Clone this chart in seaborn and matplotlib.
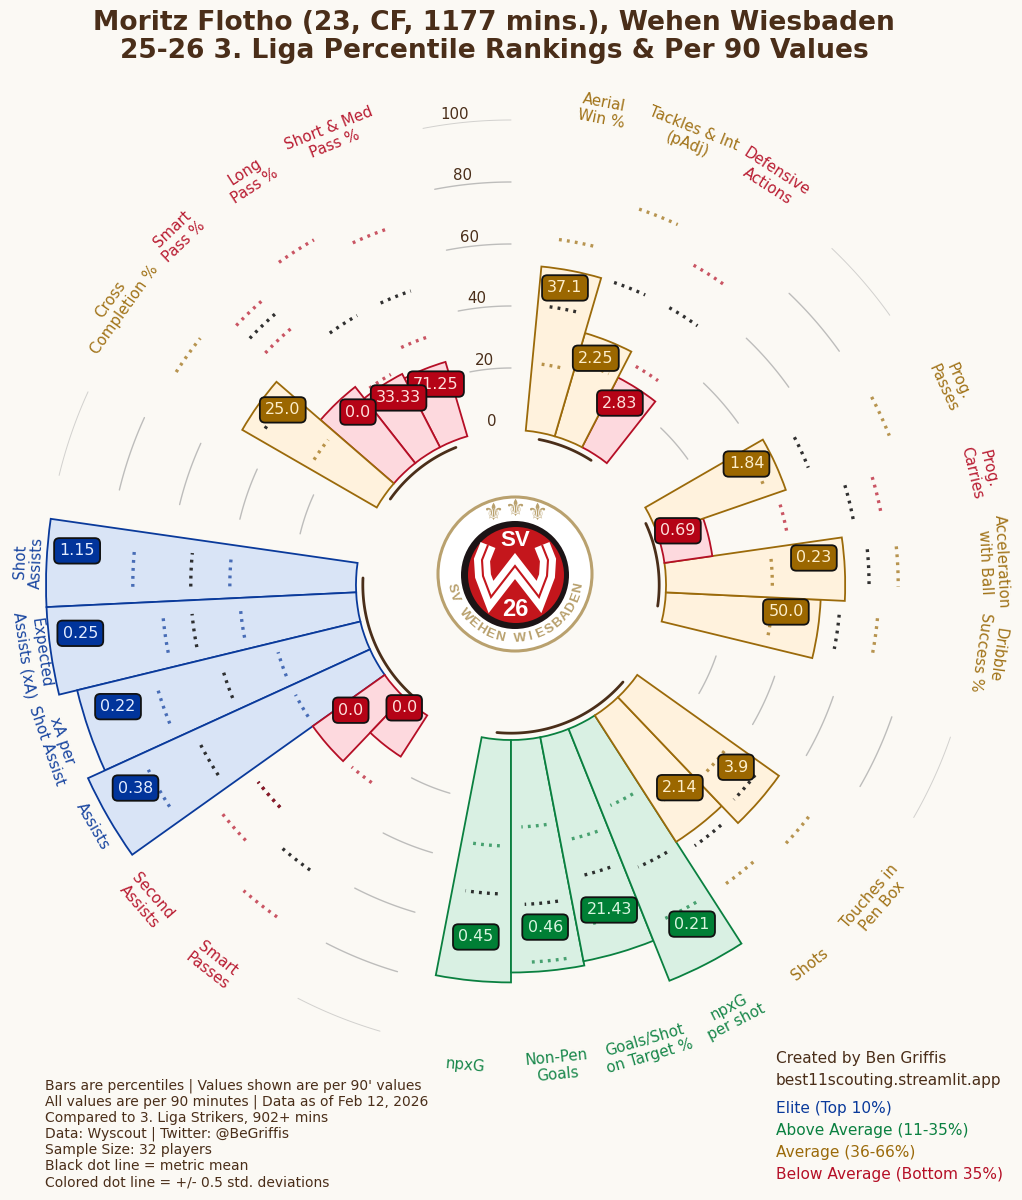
import numpy as np
import matplotlib
matplotlib.use('Agg')
import matplotlib.pyplot as plt
import seaborn as sns

# Metrics clockwise from the top, slot = position on a 33 slot circle
metrics = ['Aerial\nWin %', 'Tackles & Int\n(pAdj)', 'Defensive\nActions',
           'Prog.\nPasses', 'Prog.\nCarries', 'Acceleration\nwith Ball', 'Dribble\nSuccess %',
           'Touches in\nPen Box', 'Shots', 'npxG\nper shot', 'Goals/Shot\non Target %',
           'Non-Pen\nGoals', 'npxG',
           'Smart\nPasses', 'Second\nAssists', 'Assists', 'xA per\nShot Assist',
           'Expected\nAssists (xA)', 'Shot\nAssists',
           'Cross\nCompletion %', 'Smart\nPass %', 'Long\nPass %', 'Short & Med\nPass %']
slots = [1, 2, 3, 6, 7, 8, 9, 12, 13, 14, 15, 16, 17, 20, 21, 22, 23, 24, 25, 28, 29, 30, 31]
percentiles = [53.2, 34.7, 25.3, 43.8, 15.6, 57.8, 50.0, 56.1, 48.5, 87.5, 73.6, 75.0, 78.2,
               15.8, 28.5, 100, 94.0, 100, 100, 50.1, 31.3, 26.6, 25.0]
per90 = ['37.1', '2.25', '2.83', '1.84', '0.69', '0.23', '50.0', '3.9', '2.14', '0.21', '21.43',
         '0.46', '0.45', '0.0', '0.0', '0.38', '0.22', '0.25', '1.15', '25.0', '0.0', '33.33', '71.25']
tiers = ['avg', 'avg', 'low', 'avg', 'low', 'avg', 'avg', 'avg', 'avg', 'good', 'good', 'good', 'good',
         'low', 'low', 'elite', 'elite', 'elite', 'elite', 'avg', 'low', 'low', 'low']
mean_line = [40.6, 53.1, 53.0, 53.1, 62.4, 65.5, 56.3, 49.8, 52.9, 49.8, 46.5, 53.1, 49.7,
             62.5, 53.4, 62.6, 46.9, 53.3, 53.3, 44.0, 65.9, 50.1, 50.2]
low_line = [21.9, 25.1, 31.2, 37.6, 40.6, 34.3, 34.5, 37.2, 35.1, 28.0, 34.2, 28.1, 34.2,
            28.0, 53.4, 28.0, 28.2, 37.6, 40.7, 25.3, 59.0, 28.2, 34.4]
high_line = [62.5, 78.1, 68.8, 81.2, 71.6, 74.9, 68.7, 71.7, 68.7, 68.5, 62.3, 71.8, 64.2,
             81.0, 68.8, 81.3, 68.8, 62.7, 72.0, 78.0, 71.9, 78.2, 71.6]

# where the value boxes sit
label_deg = [10.3, 20.5, 30.9, 62.8, 72.0, 84.9, 95.6, 129.0, 140.2, 151.9, 163.2, 174.3, 185.7,
             221.0, 232.0, 241.6, 252.8, 263.6, 274.5, 307.5, 318.5, 329.0, 339.5]
label_r = [47.4, 28.1, 18.4, 35.4, 6.6, 48.1, 39.1, 43.4, 35.1, 74.0, 59.5, 60.9, 64.1,
           2.5, 15.6, 87.7, 82.7, 89.8, 90.4, 42.8, 24.5, 20.4, 19.2]

grid_values = [20, 40, 60, 80, 100]
grid_slots = [(4, 5), (10, 11), (18, 19), (26, 27), (32, 33)]
group_arcs = [(1, 3), (6, 9), (12, 17), (20, 25), (28, 31)]

notes = ["Bars are percentiles | Values shown are per 90' values",
         'All values are per 90 minutes | Data as of Feb 12, 2026',
         'Compared to 3. Liga Strikers, 902+ mins',
         'Data: Wyscout | Twitter: @BeGriffis',
         'Sample Size: 32 players',
         'Black dot line = metric mean',
         'Colored dot line = +/- 0.5 std. deviations']
legend_text = ['Elite (Top 10%)', 'Above Average (11-35%)', 'Average (36-66%)', 'Below Average (Bottom 35%)']
legend_tiers = ['elite', 'good', 'avg', 'low']

bg = '#fbf9f4'
brown = '#4a2e19'
line_col = {'elite': '#0a3a9b', 'good': '#0a8040', 'avg': '#9b6a0a', 'low': '#b50f26'}
fill_col = {'elite': '#d9e4f6', 'good': '#d9f0e3', 'avg': '#fff2dd', 'low': '#fdd9de'}
box_col = {'elite': '#01349b', 'good': '#007f35', 'avg': '#9b6700', 'low': '#b50316'}
box_text = {'elite': '#e3ecff', 'good': '#d9f5e0', 'avg': '#fdeecb', 'low': '#fde0dc'}

sns.set_theme(style='white')
plt.rcParams['font.family'] = ['DejaVu Sans']

W, H = 1022, 1200
fig = plt.figure(figsize=(W / 100, H / 100), dpi=100, facecolor=bg)


def fx(px):
    return px / W


def fy(py):
    return 1 - py / H


ax = fig.add_axes([fx(46), fy(1050), 930 / W, 930 / H], polar=True)
ax.set_theta_zero_location('N')
ax.set_theta_direction(-1)
ax.set_rorigin(-50)
ax.set_ylim(0, 100)
ax.axis('off')

step = 2 * np.pi / 33
thetas = [s * step for s in slots]
n = len(slots)

# bars, earlier slots sit on top of later ones
for i in range(n - 1, -1, -1):
    t = tiers[i]
    ax.bar(thetas[i], percentiles[i], width=step, bottom=0, facecolor=fill_col[t],
           edgecolor=line_col[t], linewidth=1.3, zorder=3 + (n - i) * 0.01, clip_on=False)


def dots(theta, value, col, alpha):
    tt = np.linspace(theta - np.radians(3), theta + np.radians(3), 12)
    ax.plot(tt, [value] * 12, color=col, alpha=alpha, lw=2.4, linestyle=(0, (0.85, 1.55)),
            zorder=6, clip_on=False)


for i in range(n):
    dots(thetas[i], mean_line[i], '#1a1a1a', 0.9)
    dots(thetas[i], low_line[i], line_col[tiers[i]], 0.7)
    dots(thetas[i], high_line[i], line_col[tiers[i]], 0.7)

    deg = np.degrees(thetas[i])
    if deg < 100:
        rot = -deg
    elif deg < 270:
        rot = 180 - deg
    else:
        rot = 360 - deg
    ax.text(thetas[i], 105.8, metrics[i], color=line_col[tiers[i]], fontsize=10.8, rotation=rot,
            rotation_mode='anchor', ha='center', va='center', linespacing=1.15, alpha=0.95)

    ax.text(np.radians(label_deg[i]), label_r[i], per90[i], color=box_text[tiers[i]],
            fontsize=11.4, ha='center', va='center', zorder=10 + (n - i) * 0.01,
            bbox=dict(boxstyle='round,pad=0.33', facecolor=box_col[tiers[i]], edgecolor='#111111', linewidth=1.3))

# grid arcs live in the gaps between groups
for a, b in grid_slots:
    tt = np.linspace(a * step, b * step, 30)
    for v in grid_values:
        ax.plot(tt, [v] * 30, color='#a9a9a9', lw=1.0 if v < 100 else 0.7, alpha=0.75 if v < 100 else 0.5,
                zorder=1, clip_on=False)

for v in [0] + grid_values:
    ax.text(np.radians(353.2), v + 3, str(v), color=brown, fontsize=10.8, ha='center', va='center')

for a, b in group_arcs:
    tt = np.linspace(a * step, b * step, 60)
    ax.plot(tt, [-2.2] * 60, color=brown, lw=2.0, zorder=8, clip_on=False, solid_capstyle='round')

# club badge
logo = fig.add_axes([fx(430), fy(659), 170 / W, 170 / H])
logo.set_xlim(-85, 85)
logo.set_ylim(-85, 85)
logo.set_aspect('equal')
logo.axis('off')
gold = '#b9a16e'
logo.add_patch(plt.Circle((0, 0), 77, facecolor='white', edgecolor=gold, lw=2.2))
logo.add_patch(plt.Circle((0, -1), 54, facecolor='#1c1416', edgecolor='none'))
logo.add_patch(plt.Circle((1, -1), 48, facecolor='#c4161c', edgecolor='none'))
wx = [-27, -33, -32, -24, 0, 24, 32, 33, 27]
wy = [29, 14, -2, -23, 8, -23, -2, 14, 29]
logo.plot(wx, wy, color='white', lw=11.5, solid_joinstyle='miter', solid_capstyle='butt')
logo.plot(wx, wy, color='#c4161c', lw=1.5, solid_joinstyle='miter', solid_capstyle='butt')
logo.text(0, 33, 'SV', color='white', fontsize=16, fontweight='bold', ha='center', va='center', family='Liberation Sans')
logo.text(0, -35, '26', color='white', fontsize=17, fontweight='bold', ha='center', va='center', family='Liberation Sans')
for sx, sy in [(-22, 61), (0, 65), (22, 61)]:
    logo.text(sx, sy, '\u269c', color=gold, fontsize=17, ha='center', va='center')
badge_name = 'SV WEHEN WIESBADEN'
badge_deg = np.linspace(-78, 78, len(badge_name))
for ch, d in zip(badge_name, badge_deg):
    rad = np.radians(d)
    logo.text(65 * np.sin(rad), -65 * np.cos(rad), ch, color=gold, fontsize=9.6, fontweight='bold',
              ha='center', va='center', rotation=d, family='Liberation Sans')

fig.text(fx(494), fy(37), 'Moritz Flotho (23, CF, 1177 mins.), Wehen Wiesbaden\n25-26 3. Liga Percentile Rankings & Per 90 Values',
         color=brown, fontsize=19.1, fontweight='bold', ha='center', va='center', linespacing=1.13)

for i, line in enumerate(notes):
    fig.text(fx(45), fy(1086 + i * 16), line, color=brown, fontsize=10.0, ha='left', va='center')

fig.text(fx(776), fy(1059), 'Created by Ben Griffis', color=brown, fontsize=11.05, ha='left', va='center')
fig.text(fx(776), fy(1081), 'best11scouting.streamlit.app', color=brown, fontsize=11.05, ha='left', va='center')
for i, line in enumerate(legend_text):
    fig.text(fx(776), fy(1109 + i * 22), line, color=line_col[legend_tiers[i]], fontsize=11.05, ha='left', va='center')

fig.savefig('out.png', dpi=100, facecolor=bg)
